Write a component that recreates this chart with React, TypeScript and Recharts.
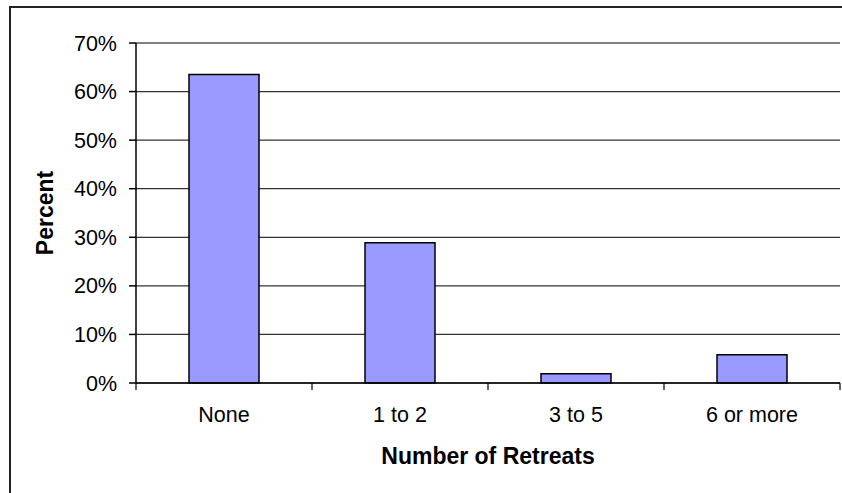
import React from 'react';
import { BarChart, Bar, XAxis, YAxis, CartesianGrid, ReferenceLine } from 'recharts';

const categories = ['None', '1 to 2', '3 to 5', '6 or more'];
const percentValues = [0.635, 0.289, 0.019, 0.058];
const yTicks = [0, 0.1, 0.2, 0.3, 0.4, 0.5, 0.6, 0.7];
const xTitle = 'Number of Retreats';
const yTitle = 'Percent';

const data = categories.map((c, i) => ({ name: c, value: percentValues[i] }));

const FONT = '"Liberation Sans", Arial, sans-serif';

const XTick = (props: any) => {
  const { x, payload, index } = props;
  const off = payload && payload.offset ? payload.offset : 88;
  const axisY = 383;
  return (
    <g>
      {index === 0 && <line x1={x - off} x2={x - off} y1={axisY} y2={axisY + 7} stroke="#000" strokeWidth={1.2} />}
      <line x1={x + off} x2={x + off} y1={axisY} y2={axisY + 7} stroke="#000" strokeWidth={1.2} />
      <text x={x} y={axisY + 24} dy="0.71em" textAnchor="middle" fontFamily={FONT} fontSize={21.5} fill="#000">
        {payload.value}
      </text>
    </g>
  );
};

export default function App() {
  return (
    <div style={{ position: 'absolute', left: 0, top: 0, width: 842, height: 493, overflow: 'hidden', background: '#fff' }}>
      <div style={{ position: 'absolute', left: 9, top: 6, width: 900, height: 600, border: '2px solid #222', boxSizing: 'border-box' }} />
      <div style={{ position: 'absolute', left: 0, top: 0 }}>
        <BarChart width={842} height={493} data={data} margin={{ top: 43, right: 2, bottom: 0, left: 0 }}>
          <CartesianGrid vertical={false} stroke="#333" strokeWidth={1.2} />
          <XAxis
            dataKey="name"
            stroke="#000"
            strokeWidth={1.5}
            tickLine={false}
            tick={<XTick />}
            height={110}
            interval={0}
            label={{ value: xTitle, position: 'insideTop', offset: 65, fontFamily: FONT, fontSize: 23, fontWeight: 'bold', fill: '#000' }}
          />
          <YAxis
            domain={[0, 0.7]}
            ticks={yTicks}
            width={136}
            stroke="#000"
            strokeWidth={1.5}
            tickSize={7}
            tickMargin={12}
            tickFormatter={(v: number) => `${Math.round(v * 100)}%`}
            tick={{ fontFamily: FONT, fontSize: 21.5, fill: '#000' }}
            interval={0}
            label={{ value: yTitle, angle: -90, position: 'insideLeft', offset: 45, fontFamily: FONT, fontSize: 23, fontWeight: 'bold', fill: '#000', style: { textAnchor: 'middle' } }}
          />
          <YAxis yAxisId="right" orientation="right" width={0} tick={false} tickLine={false} stroke="#808080" strokeWidth={2} />
          <ReferenceLine y={0.7} stroke="#808080" strokeWidth={2} />
          <Bar dataKey="value" fill="#9999FF" stroke="#000" strokeWidth={1.5} barSize={70} isAnimationActive={false} />
        </BarChart>
      </div>
    </div>
  );
}
